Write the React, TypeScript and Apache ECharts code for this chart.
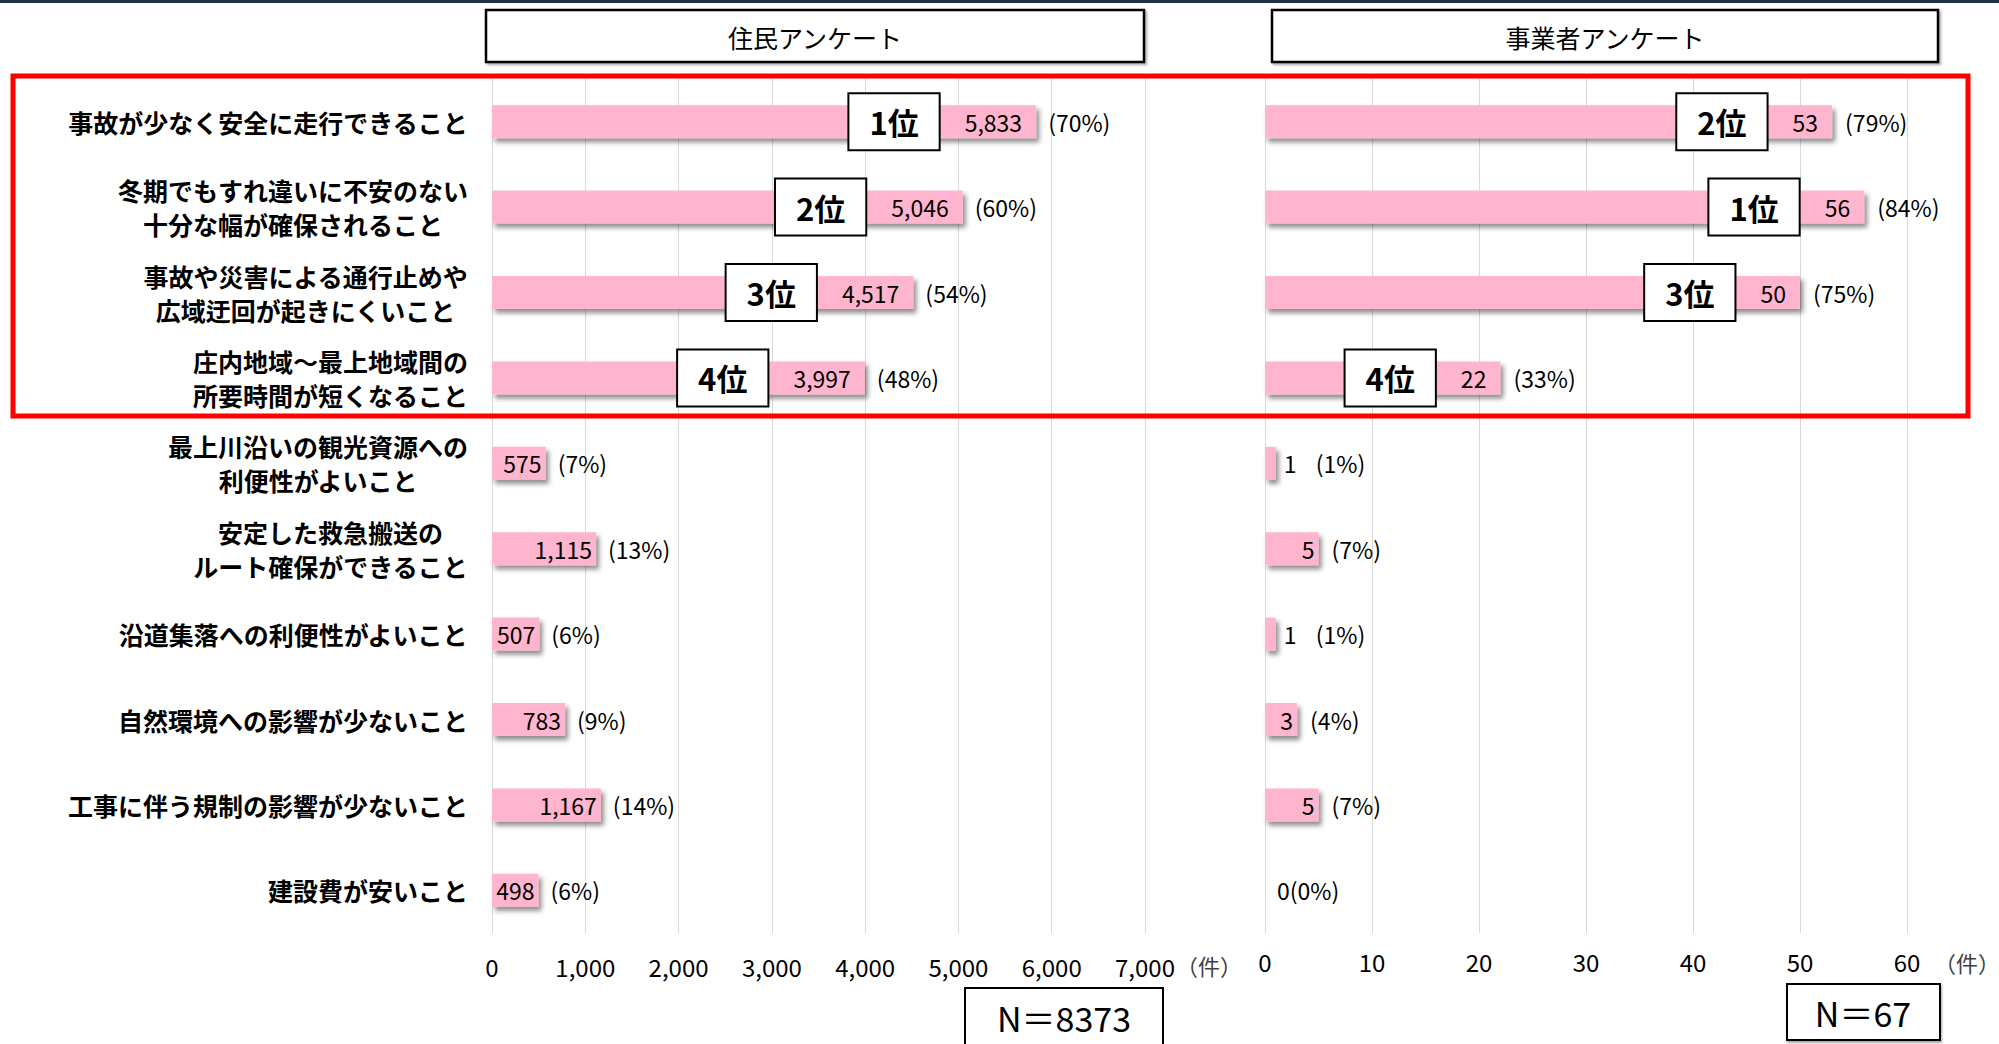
import React, { useEffect, useRef } from "react";
import * as echarts from "echarts";

const categories = [
  "事故が少なく安全に走行できること",
  "冬期でもすれ違いに不安のない\n十分な幅が確保されること",
  "事故や災害による通行止めや\n広域迂回が起きにくいこと",
  "庄内地域～最上地域間の\n所要時間が短くなること",
  "最上川沿いの観光資源への\n利便性がよいこと",
  "安定した救急搬送の\nルート確保ができること",
  "沿道集落への利便性がよいこと",
  "自然環境への影響が少ないこと",
  "工事に伴う規制の影響が少ないこと",
  "建設費が安いこと",
];

const residentCounts = [5833, 5046, 4517, 3997, 575, 1115, 507, 783, 1167, 498];
const residentPct = [70, 60, 54, 48, 7, 13, 6, 9, 14, 6];
const residentRank = [1, 2, 3, 4, 0, 0, 0, 0, 0, 0];

const businessCounts = [53, 56, 50, 22, 1, 5, 1, 3, 5, 0];
const businessPct = [79, 84, 75, 33, 1, 7, 1, 4, 7, 0];
const businessRank = [2, 1, 3, 4, 0, 0, 0, 0, 0, 0];

const residentAxis = { min: 0, max: 7000, interval: 1000 };
const businessAxis = { min: 0, max: 60, interval: 10 };

const panelTitles = ["住民アンケート", "事業者アンケート"];
const sampleSizes = ["N＝8373", "N＝67"];
const unitText = "（件）";

const FONT = "'Noto Sans CJK JP', 'Noto Sans', sans-serif";
const PINK = "#FFB5CE";

const fmtNum = (v: number) => v.toLocaleString("en-US");

const richStyles = {
  r: {
    fontSize: 31,
    fontWeight: "bold",
    color: "#000",
    backgroundColor: "#fff",
    borderColor: "#000",
    borderWidth: 2,
    padding: [12, 20, 12, 20],
    lineHeight: 36,
    fontFamily: FONT,
  },
  v: {
    fontSize: 23,
    color: "#000",
    padding: [0, 14, 0, 26],
    fontFamily: FONT,
  },
  u: {
    fontSize: 23,
    color: "#000",
    padding: [0, 4, 0, 0],
    fontFamily: FONT,
  },
};

function valueData(counts: number[], ranks: number[]) {
  return counts.map((v, i) => {
    const r = ranks[i];
    let label: any;
    if (v === 0) label = { show: false };
    else if (v < 2)
      label = {
        show: true,
        position: "right",
        distance: 8,
        formatter: fmtNum(v),
        fontSize: 23,
        color: "#000",
      };
    else if (r)
      label = {
        show: true,
        position: "insideRight",
        distance: 0,
        formatter: `{r|${r}位}{v|${fmtNum(v)}}`,
        rich: richStyles,
      };
    else
      label = {
        show: true,
        position: "insideRight",
        distance: 0,
        formatter: `{u|${fmtNum(v)}}`,
        rich: richStyles,
      };
    return { value: v, label };
  });
}

function pctData(counts: number[], pct: number[], baseDist: number) {
  return counts.map((v, i) => ({
    value: v,
    label: {
      show: true,
      position: "right",
      distance: v === 0 ? 12 : v < 2 ? 40 : baseDist,
      formatter: v === 0 ? `${v}(${pct[i]}%)` : `(${pct[i]}%)`,
      fontSize: 23,
      color: "#000",
    },
  }));
}

const barItemStyle = {
  color: PINK,
  shadowColor: "rgba(0,0,0,0.45)",
  shadowBlur: 5,
  shadowOffsetX: 3,
  shadowOffsetY: 4,
};

export default function App() {
  const ref = useRef<HTMLDivElement>(null);

  useEffect(() => {
    document.body.style.margin = "0";
    const chart = echarts.init(ref.current!, undefined, { renderer: "svg" });

    const grids = [
      { left: 492, top: 79, width: 653, height: 854 },
      { left: 1265, top: 79, width: 642, height: 854 },
    ];

    const xAxisCommon = {
      type: "value",
      axisLine: { show: false },
      axisTick: { show: false },
      splitLine: { show: true, lineStyle: { color: "#D9D9D9", width: 1 } },
    };

    const boxStyle = {
      fill: "#fff",
      stroke: "#000",
      lineWidth: 2.5,
      shadowColor: "rgba(0,0,0,0.3)",
      shadowBlur: 2,
      shadowOffsetX: 2,
      shadowOffsetY: 2,
    };

    const option: any = {
      animation: false,
      backgroundColor: "#fff",
      textStyle: { fontFamily: FONT },
      grid: grids,
      xAxis: [
        {
          ...xAxisCommon,
          gridIndex: 0,
          ...residentAxis,
          axisLabel: {
            fontSize: 24,
            color: "#000",
            margin: 21,
            formatter: (v: number) => fmtNum(v),
          },
        },
        {
          ...xAxisCommon,
          gridIndex: 1,
          ...businessAxis,
          axisLabel: { fontSize: 24, color: "#000", margin: 16 },
        },
      ],
      yAxis: [
        {
          type: "category",
          gridIndex: 0,
          data: categories,
          inverse: true,
          axisLine: { show: false },
          axisTick: { show: false },
          axisLabel: {
            margin: 24,
            formatter: (s: string) =>
              s
                .split("\n")
                .map((l) => `{c|${l}}`)
                .join("\n"),
            rich: {
              c: {
                fontSize: 25,
                fontWeight: "bold",
                color: "#000",
                lineHeight: 34,
                align: "center",
                fontFamily: FONT,
              },
            },
          },
        },
        {
          type: "category",
          gridIndex: 1,
          data: categories,
          inverse: true,
          axisLine: { show: false },
          axisTick: { show: false },
          axisLabel: { show: false },
        },
      ],
      series: [
        {
          name: panelTitles[0],
          type: "bar",
          xAxisIndex: 0,
          yAxisIndex: 0,
          barWidth: 33,
          barGap: "-100%",
          itemStyle: barItemStyle,
          data: pctData(residentCounts, residentPct, 12),
          silent: true,
        },
        {
          name: panelTitles[0] + "値",
          type: "bar",
          xAxisIndex: 0,
          yAxisIndex: 0,
          barWidth: 33,
          barGap: "-100%",
          itemStyle: { color: "rgba(0,0,0,0)" },
          label: { show: true, rich: richStyles },
          data: valueData(residentCounts, residentRank),
          silent: true,
          z: 3,
        },
        {
          name: panelTitles[1],
          type: "bar",
          xAxisIndex: 1,
          yAxisIndex: 1,
          barWidth: 33,
          barGap: "-100%",
          itemStyle: barItemStyle,
          data: pctData(businessCounts, businessPct, 13),
          silent: true,
        },
        {
          name: panelTitles[1] + "値",
          type: "bar",
          xAxisIndex: 1,
          yAxisIndex: 1,
          barWidth: 33,
          barGap: "-100%",
          itemStyle: { color: "rgba(0,0,0,0)" },
          label: { show: true, rich: richStyles },
          data: valueData(businessCounts, businessRank),
          silent: true,
          z: 3,
        },
      ],
      graphic: [
        {
          type: "rect",
          shape: { x: 0, y: 0, width: 1999, height: 3 },
          style: { fill: "#1F3042" },
          silent: true,
        },
        {
          type: "rect",
          shape: { x: 486, y: 10, width: 658, height: 52 },
          style: boxStyle,
          silent: true,
        },
        {
          type: "text",
          x: 815,
          y: 37,
          style: {
            text: panelTitles[0],
            fontSize: 25,
            fontFamily: FONT,
            fill: "#000",
            align: "center",
            verticalAlign: "middle",
          },
          silent: true,
        },
        {
          type: "rect",
          shape: { x: 1272, y: 10, width: 666, height: 52 },
          style: boxStyle,
          silent: true,
        },
        {
          type: "text",
          x: 1605,
          y: 37,
          style: {
            text: panelTitles[1],
            fontSize: 25,
            fontFamily: FONT,
            fill: "#000",
            align: "center",
            verticalAlign: "middle",
          },
          silent: true,
        },
        {
          type: "rect",
          shape: { x: 13, y: 76, width: 1955, height: 340 },
          style: { fill: "none", stroke: "#FF0000", lineWidth: 5 },
          silent: true,
          z: 100,
        },
        {
          type: "text",
          x: 1176,
          y: 965,
          style: {
            text: unitText,
            fontSize: 22,
            fontFamily: FONT,
            fill: "#404040",
            align: "left",
            verticalAlign: "middle",
          },
          silent: true,
        },
        {
          type: "text",
          x: 1934,
          y: 962,
          style: {
            text: unitText,
            fontSize: 22,
            fontFamily: FONT,
            fill: "#404040",
            align: "left",
            verticalAlign: "middle",
          },
          silent: true,
        },
        {
          type: "rect",
          shape: { x: 965, y: 988, width: 198, height: 70 },
          style: { fill: "#fff", stroke: "#000", lineWidth: 2 },
          silent: true,
        },
        {
          type: "text",
          x: 1064,
          y: 1017,
          style: {
            text: sampleSizes[0],
            fontSize: 34,
            fontFamily: FONT,
            fill: "#000",
            align: "center",
            verticalAlign: "middle",
          },
          silent: true,
        },
        {
          type: "rect",
          shape: { x: 1787, y: 984, width: 153, height: 56 },
          style: {
            fill: "#fff",
            stroke: "#000",
            lineWidth: 2,
            shadowColor: "rgba(0,0,0,0.35)",
            shadowBlur: 2,
            shadowOffsetX: 1,
            shadowOffsetY: 2,
          },
          silent: true,
        },
        {
          type: "text",
          x: 1863,
          y: 1012,
          style: {
            text: sampleSizes[1],
            fontSize: 34,
            fontFamily: FONT,
            fill: "#000",
            align: "center",
            verticalAlign: "middle",
          },
          silent: true,
        },
      ],
    };

    chart.setOption(option);
    return () => chart.dispose();
  }, []);

  return (
    <div
      ref={ref}
      style={{ position: "absolute", left: 0, top: 0, width: 1999, height: 1044 }}
    />
  );
}
